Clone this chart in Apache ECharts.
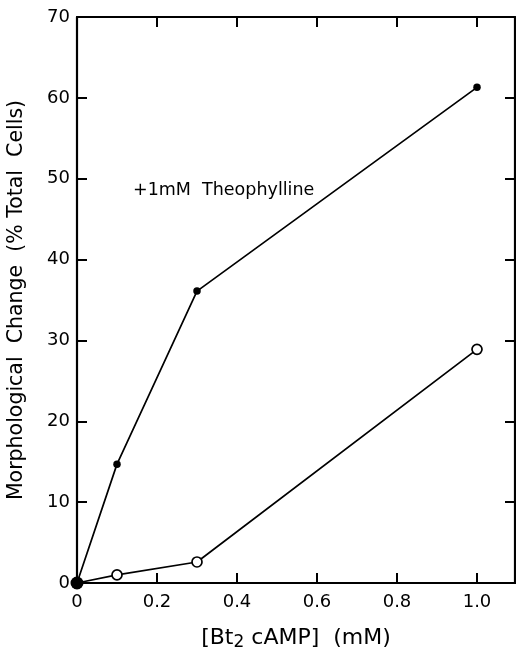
<!DOCTYPE html>
<html>
<head>
<meta charset="utf-8">
<script src="https://cdn.jsdelivr.net/npm/echarts@6/dist/echarts.min.js"></script>
<style>html,body{margin:0;padding:0;background:#fff}#c{width:516px;height:654px}</style>
</head>
<body>
<div id="c"></div>
<script>
const concentrations = [0, 0.1, 0.3, 1.0];
const withTheophylline = [0, 14.7, 36.1, 61.3];
const withoutTheophylline = [0, 1.0, 2.6, 28.9];
const yTicks = [0, 10, 20, 30, 40, 50, 60, 70];
const xTicks = [0, 0.2, 0.4, 0.6, 0.8, 1.0];
const annotation = '+1mM  Theophylline';

const font = '"DejaVu Sans", sans-serif';
const chart = echarts.init(document.getElementById('c'));
const xFmt = v => { const r = Math.round(v * 10) / 10; return xTicks.some(t => Math.abs(t - v) < 1e-6) ? (r === 0 ? '0' : r.toFixed(1)) : ''; };
const yFmt = v => yTicks.includes(v) ? String(v) : '';
const mkLine = () => ({ show: true, onZero: false, lineStyle: { color: '#000', width: 2.2 } });
const mkTick = () => ({ show: true, inside: true, length: 10, lineStyle: { color: '#000', width: 2 } });
chart.setOption({
  animation: false,
  backgroundColor: '#fff',
  grid: { left: 77, right: 1, top: 17, bottom: 71, containLabel: false, outerBoundsMode: 'none' },
  xAxis: [{
    type: 'value', min: 0, max: 1.095, interval: 0.2, position: 'bottom',
    axisLine: mkLine(), axisTick: mkTick(), splitLine: { show: false },
    axisLabel: { formatter: xFmt, showMaxLabel: false, color: '#000', fontSize: 18, fontFamily: font, margin: 10 },
    name: '[Bt{s|2} cAMP]  (mM)', nameLocation: 'middle', nameGap: 43,
    nameTextStyle: { color: '#000', fontSize: 22, fontFamily: font, rich: { s: { fontSize: 17, verticalAlign: 'bottom', padding: [8, 0, 0, 0], fontFamily: font, color: '#000' } } }
  }, {
    type: 'value', min: 0, max: 1.095, interval: 0.2, position: 'top',
    axisLine: mkLine(), axisTick: mkTick(), axisLabel: { show: false }, splitLine: { show: false }
  }],
  yAxis: [{
    type: 'value', min: 0, max: 70, interval: 10, position: 'left',
    axisLine: mkLine(), axisTick: mkTick(), splitLine: { show: false },
    axisLabel: { formatter: yFmt, color: '#000', fontSize: 18, fontFamily: font, margin: 7 },
    name: 'Morphological  Change  (% Total  Cells)', nameLocation: 'middle', nameGap: 50,
    nameTextStyle: { color: '#000', fontSize: 20.5, fontFamily: font }
  }, {
    type: 'value', min: 0, max: 70, interval: 10, position: 'right',
    axisLine: mkLine(), axisTick: mkTick(), axisLabel: { show: false }, splitLine: { show: false }
  }],
  graphic: [{
    type: 'text', left: 133, top: 181,
    style: { text: annotation, fontSize: 17.5, fontFamily: font, fill: '#000' }
  }],
  series: [{
    type: 'line', name: 'open',
    data: concentrations.map((x, i) => [x, withoutTheophylline[i]]),
    symbol: 'circle', symbolSize: 10,
    lineStyle: { color: '#000', width: 1.7 },
    itemStyle: { color: '#fff', borderColor: '#000', borderWidth: 1.7 },
    z: 3
  }, {
    type: 'line', name: 'filled',
    data: concentrations.map((x, i) => ({ value: [x, withTheophylline[i]], symbolSize: i === 0 ? 13 : 7.5 })),
    symbol: 'circle',
    lineStyle: { color: '#000', width: 1.7 },
    itemStyle: { color: '#000', borderColor: '#000', borderWidth: 0 },
    z: 4
  }]
});
</script>
</body>
</html>
